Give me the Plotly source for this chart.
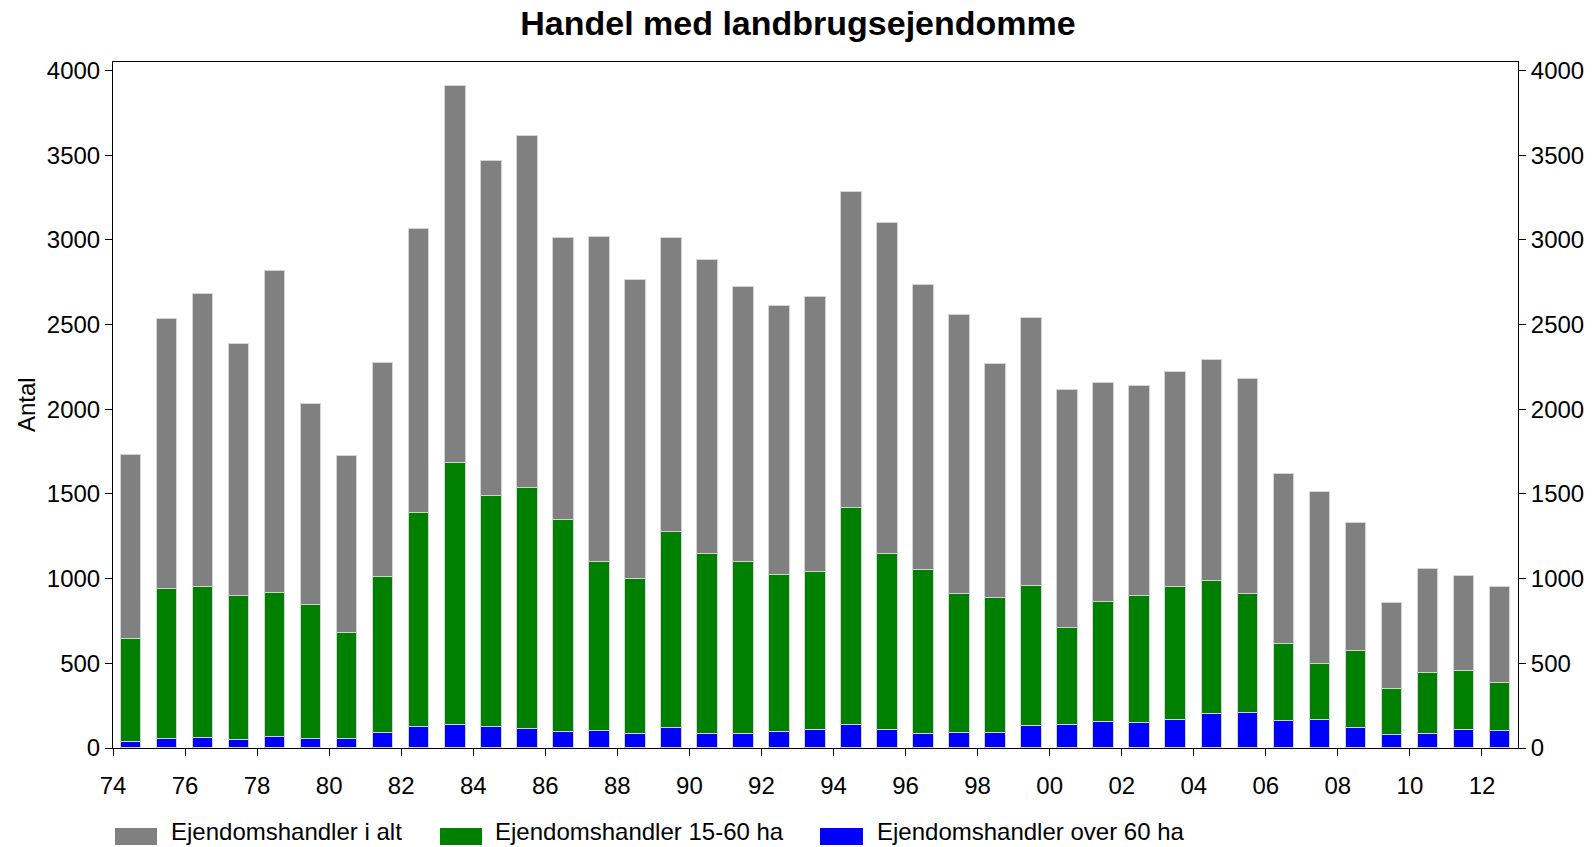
import plotly.graph_objects as go

years = list(range(1974, 2013))
total = [1727, 2533, 2683, 2386, 2815, 2031, 1722, 2272, 3063, 3909, 3465, 3614, 3010,
         3018, 2764, 3012, 2884, 2724, 2612, 2663, 3283, 3100, 2734, 2555, 2270, 2539, 2114,
         2157, 2138, 2217, 2293, 2181,
         1616, 1512, 1328, 855, 1057, 1013, 950]
mid = [645, 940, 952, 899, 917, 846, 680, 1007, 1386, 1681, 1486, 1537, 1348,
       1096, 997, 1273, 1147, 1096, 1019, 1041, 1417, 1147, 1049, 907, 885, 958, 706,
       863, 899, 948, 987, 911,
       615, 497, 570, 349, 440, 455, 386]
large = [35, 53, 59, 47, 67, 53, 53, 91, 126, 136, 126, 114, 94,
         100, 83, 118, 83, 85, 95, 106, 136, 104, 83, 91, 89, 130, 136,
         152, 146, 164, 199, 207,
         160, 166, 118, 75, 81, 106, 99]
names = ["Ejendomshandler i alt", "Ejendomshandler 15-60 ha", "Ejendomshandler over 60 ha"]
colors = ["#808080", "#008000", "#0000FF"]
tick_years = list(range(1974, 2013, 2))
tick_text = [f"{y % 100:02d}" for y in tick_years]
y_ticks = list(range(0, 4001, 500))

W, H = 1596, 847
L, R, T, B = 113, 1518, 62, 748
FONT = "Liberation Sans, Arial, sans-serif"

fig = go.Figure()
for vals, name, col in zip([total, mid, large], names, colors):
    fig.add_trace(go.Bar(
        x=years, y=vals, name=name, width=0.57, offset=0.5 - 0.285,
        marker=dict(color=col, line=dict(color="#d4d4d4", width=1)),
        showlegend=False,
    ))
# invisible companion trace so the right-hand axis is drawn
fig.add_trace(go.Scatter(x=years, y=total, yaxis="y2", mode="markers",
                         marker=dict(opacity=0), hoverinfo="skip", showlegend=False))

def px(xp):
    return (xp - L) / (R - L)

def py(yp):
    return (B - yp) / (B - T)

shapes = []
annotations = []
legend_items = [(115, 157, 169), (440, 482, 493), (820, 863, 875)]
for (x0, x1, tx), name, col in zip(legend_items, names, colors):
    shapes.append(dict(type="rect", xref="paper", yref="paper",
                       x0=px(x0), x1=px(x1), y0=py(845), y1=py(828),
                       fillcolor=col, line=dict(width=0)))
    annotations.append(dict(text=name, xref="paper", yref="paper", x=px(tx), y=py(847),
                            xanchor="left", yanchor="bottom", showarrow=False,
                            font=dict(family=FONT, size=24, color="black")))
annotations.append(dict(text="Antal", xref="paper", yref="paper", x=px(26), y=0.5,
                        textangle=-90, xanchor="center", yanchor="middle", showarrow=False,
                        font=dict(family=FONT, size=24, color="black")))

axis_common = dict(
    range=[0, 4050], tickvals=y_ticks, ticks="outside", ticklen=7, tickwidth=1,
    tickcolor="black", showline=True, linecolor="black", linewidth=1,
    showgrid=False, zeroline=False, tickfont=dict(family=FONT, size=24, color="black"),
)

fig.update_layout(
    width=W, height=H,
    margin=dict(l=L, r=W - R, t=T, b=H - B, pad=0),
    paper_bgcolor="white", plot_bgcolor="white",
    barmode="overlay", bargap=0,
    title=dict(text="<b>Handel med landbrugsejendomme</b>", x=0.5, xref="container", xanchor="center",
               y=1 - 23 / H, yref="container", yanchor="middle",
               font=dict(family=FONT, size=34, color="black")),
    xaxis=dict(range=[1974, 2013], tickvals=tick_years, ticktext=tick_text,
               ticks="outside", ticklen=7, tickwidth=1, tickcolor="black",
               ticklabelstandoff=9,
               showline=True, linecolor="black", linewidth=1, mirror=True,
               showgrid=False, zeroline=False,
               tickfont=dict(family=FONT, size=24, color="black")),
    yaxis=dict(side="left", **axis_common),
    yaxis2=dict(side="right", overlaying="y", matches="y", **axis_common),
    shapes=shapes, annotations=annotations,
)

fig.write_html("out.html", config={"displayModeBar": False},
               post_script="document.body.style.margin='0';document.body.style.padding='0';")
